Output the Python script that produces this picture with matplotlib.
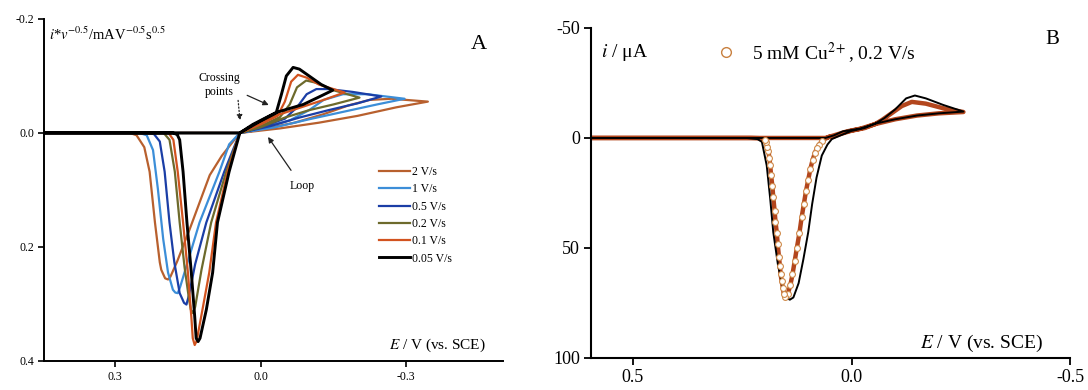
import matplotlib
matplotlib.use("Agg")
import matplotlib.pyplot as plt
from matplotlib.lines import Line2D
import numpy as np

plt.rcParams['font.family'] = ['Liberation Serif', 'DejaVu Serif']
plt.rcParams['mathtext.fontset'] = 'stix'
plt.rcParams['axes.unicode_minus'] = False

# ---- panel A : normalised CVs at several scan rates (E / V, i*v^-0.5) ----
labels_A = ['2 V/s', '1 V/s', '0.5 V/s', '0.2 V/s', '0.1 V/s', '0.05 V/s']
colors_A = ['#b8602e', '#3c8ed8', '#1b3ea6', '#6d6a2c', '#d2531f', '#000000']

e_2 = [0.447, 0.10, 0.043, -0.04, -0.12, -0.2, -0.28, -0.345,
       -0.27, -0.225, -0.18, -0.13, -0.07, 0.0, 0.043,
       0.057, 0.08, 0.105, 0.146, 0.172, 0.186, 0.191, 0.197,
       0.205, 0.208, 0.218, 0.229, 0.24, 0.256, 0.27, 0.447]
i_2 = [0, 0, 0, -0.008, -0.018, -0.03, -0.045, -0.055,
       -0.06, -0.058, -0.048, -0.033, -0.018, -0.006, 0,
       0.015, 0.04, 0.074, 0.168, 0.225, 0.252, 0.257, 0.255,
       0.24, 0.227, 0.157, 0.068, 0.025, 0.004, 0, 0]

e_1 = [0.447, 0.10, 0.043, -0.03, -0.1, -0.17, -0.24, -0.297,
       -0.22, -0.17, -0.13, -0.1, -0.06, 0.0, 0.043,
       0.065, 0.085, 0.126, 0.15, 0.166, 0.171, 0.176,
       0.181, 0.191, 0.201, 0.212, 0.222, 0.235, 0.25, 0.447]
i_1 = [0, 0, 0, -0.01, -0.024, -0.037, -0.05, -0.06,
       -0.068, -0.068, -0.058, -0.04, -0.022, -0.008, 0,
       0.02, 0.068, 0.157, 0.225, 0.27, 0.281, 0.28,
       0.275, 0.245, 0.186, 0.098, 0.03, 0.004, 0, 0]

e_05 = [0.447, 0.10, 0.043, -0.02, -0.08, -0.14, -0.2, -0.249,
        -0.19, -0.14, -0.115, -0.095, -0.075, -0.05, 0.0, 0.043,
        0.075, 0.112, 0.135, 0.148, 0.153, 0.158,
        0.167, 0.178, 0.188, 0.198, 0.208, 0.22, 0.235, 0.447]
i_05 = [0, 0, 0, -0.012, -0.027, -0.04, -0.052, -0.064,
        -0.072, -0.077, -0.077, -0.068, -0.045, -0.025, -0.01, 0,
        0.068, 0.157, 0.23, 0.285, 0.301, 0.298,
        0.281, 0.227, 0.157, 0.068, 0.015, 0.002, 0, 0]

e_02 = [0.447, 0.10, 0.043, 0.0, -0.05, -0.1, -0.15, -0.204,
        -0.15, -0.115, -0.094, -0.075, -0.06, -0.04, 0.0, 0.043,
        0.071, 0.102, 0.122, 0.135, 0.14, 0.144,
        0.148, 0.157, 0.167, 0.177, 0.188, 0.2, 0.447]
i_02 = [0, 0, 0, -0.01, -0.027, -0.04, -0.05, -0.062,
        -0.075, -0.088, -0.092, -0.08, -0.05, -0.028, -0.012, 0,
        0.068, 0.157, 0.24, 0.305, 0.316, 0.31,
        0.29, 0.235, 0.157, 0.068, 0.012, 0, 0]

e_01 = [0.447, 0.10, 0.043, 0.015, -0.03, -0.08, -0.13, -0.173,
        -0.12, -0.095, -0.077, -0.063, -0.05, -0.035, 0.0, 0.043,
        0.068, 0.092, 0.106, 0.12, 0.132, 0.136, 0.14,
        0.143, 0.15, 0.16, 0.171, 0.18, 0.19, 0.447]
i_01 = [0, 0, 0, -0.013, -0.03, -0.044, -0.058, -0.071,
        -0.085, -0.097, -0.102, -0.09, -0.055, -0.03, -0.015, 0,
        0.068, 0.157, 0.245, 0.31, 0.365, 0.372, 0.36,
        0.322, 0.245, 0.157, 0.068, 0.012, 0, 0]

e_005 = [0.447, 0.10, 0.043, 0.016, -0.032, -0.088, -0.12, -0.149,
         -0.125, -0.10, -0.08, -0.067, -0.053, -0.043, -0.032, 0.002, 0.043,
         0.065, 0.089, 0.099, 0.112, 0.125, 0.129, 0.133,
         0.136, 0.143, 0.152, 0.16, 0.167, 0.172, 0.18, 0.447]
i_005 = [0, 0, 0, -0.015, -0.036, -0.05, -0.063, -0.075,
         -0.085, -0.1, -0.112, -0.115, -0.1, -0.068, -0.035, -0.02, 0,
         0.068, 0.157, 0.245, 0.31, 0.36, 0.366, 0.36,
         0.322, 0.245, 0.157, 0.068, 0.012, 0.003, 0, 0]

curves_E = [e_2, e_1, e_05, e_02, e_01, e_005]
curves_I = [i_2, i_1, i_05, i_02, i_01, i_005]

# ---- panel B : experiment (black line) vs simulation (circles), i / uA ----
exp_e = [0.596, 0.06, 0.04, 0.02, -0.02, -0.054, -0.1, -0.15, -0.2, -0.256,
         -0.21, -0.17, -0.145, -0.125, -0.1, -0.075, -0.054, -0.03, 0.0, 0.025, 0.045,
         0.055, 0.068, 0.08, 0.09, 0.099, 0.11, 0.121, 0.133, 0.141,
         0.144, 0.156, 0.168, 0.179, 0.186, 0.194, 0.205, 0.215, 0.24, 0.596]
exp_i = [0, 0, -1.2, -3.0, -4.3, -6.5, -8.5, -10.2, -11.2, -12.0,
         -15.0, -18.0, -19.3, -18.0, -13.0, -9.0, -6.5, -4.5, -3.2, -1.2, 0.5,
         3, 8, 18, 30, 42.8, 55, 66, 72.5, 73.5,
         73.2, 68.7, 58, 42.8, 27.6, 12.5, 1.8, 0.5, 0, 0]

sim_e = [0.596, 0.06, 0.05, 0.03, 0.01, -0.02, -0.054, -0.1, -0.15, -0.2, -0.256,
         -0.21, -0.17, -0.138, -0.115, -0.09, -0.07, -0.054, -0.03, 0.0, 0.025, 0.045,
         0.05, 0.056, 0.062, 0.068, 0.074, 0.079, 0.084, 0.089, 0.094, 0.099, 0.104,
         0.109, 0.114, 0.119, 0.125, 0.13, 0.135, 0.14, 0.146, 0.152,
         0.155, 0.157, 0.16, 0.162, 0.164, 0.166, 0.169, 0.171, 0.174, 0.176, 0.179,
         0.181, 0.184, 0.186, 0.188, 0.19, 0.193, 0.195, 0.199, 0.202, 0.212, 0.23, 0.596]
sim_i = [0, 0, -0.6, -1.8, -3.0, -4.2, -6.3, -8.5, -10.2, -11.2, -11.8,
         -13.5, -15.6, -16.4, -14.5, -11.0, -8.2, -6.3, -4.5, -3.3, -1.8, -0.3,
         -0.6, 0.0, 0.5, 1.5, 3, 4.5, 7, 10, 14, 19, 24,
         30, 36, 43, 50, 56, 62, 67, 71, 72.5,
         71, 68, 65, 62, 58, 54, 48, 43, 38, 33, 27,
         22, 17, 12.5, 9, 6, 4, 2, 1, 0.5, 0.1, 0, 0]

fig = plt.figure(figsize=(10.88, 3.9), dpi=100)

# ================= panel A =================
axA = fig.add_axes([0.0404, 0.0744, 0.4219, 0.877])
for e, i, c, lab in zip(curves_E, curves_I, colors_A, labels_A):
    lw = 2.1 if c == '#000000' else 1.6
    axA.plot(e, i, color=c, lw=lw, label=lab, solid_joinstyle='round')

axA.set_xlim(0.447, -0.5)
axA.set_ylim(0.4, -0.2)
axA.set_xticks([0.3, 0.0, -0.3])
axA.set_xticklabels(['0.3', '0.0', '-0.3'])
axA.set_yticks([-0.2, 0.0, 0.2, 0.4])
axA.set_yticklabels(['-0.2', '0.0', '0.2', '0.4'])
for s in ['top', 'right']:
    axA.spines[s].set_visible(False)
for s in ['left', 'bottom']:
    axA.spines[s].set_linewidth(1.4)
axA.tick_params(direction='out', length=4, width=1.2, labelsize=8.5, pad=3)

axA.text(0.012, 0.955, r"$i$*$v^{-0.5}$/mAV$^{-0.5}$s$^{0.5}$", transform=axA.transAxes,
         fontsize=10.5, ha='left', va='center')
axA.text(0.948, 0.924, 'A', transform=axA.transAxes, fontsize=16, ha='center', va='center')
axA.text(0.963, 0.045, r"$E$ / V (vs. SCE)", transform=axA.transAxes, fontsize=11,
         ha='right', va='center')

axA.text(0.085, -0.084, 'Crossing\npoints', fontsize=8.5, ha='center', va='center',
         linespacing=1.3)
axA.annotate('', xy=(0.042, -0.017), xytext=(0.047, -0.062),
             arrowprops=dict(arrowstyle='-|>', lw=0.9, ls=':', color='#222222',
                             mutation_scale=8))
axA.annotate('', xy=(-0.022, -0.047), xytext=(0.033, -0.068),
             arrowprops=dict(arrowstyle='-|>', lw=0.9, color='#222222', mutation_scale=8))
axA.annotate('Loop', xy=(-0.012, 0.003), xytext=(-0.085, 0.093), fontsize=8.5,
             ha='center', va='center',
             arrowprops=dict(arrowstyle='-|>', lw=0.9, color='#222222', mutation_scale=8,
                             shrinkA=6))

legA = axA.legend(loc='upper left', bbox_to_anchor=(0.73, 0.57), frameon=False,
                  fontsize=8.5, handlelength=2.6, handletextpad=0.2, labelspacing=0.45,
                  borderaxespad=0, borderpad=0)

# ================= panel B =================
axB = fig.add_axes([0.5432, 0.0821, 0.4403, 0.8462])
axB.plot(sim_e, sim_i, color='#b3461d', lw=3.2, solid_joinstyle='round', zorder=2)
axB.plot(exp_e, exp_i, color='black', lw=1.4, zorder=3)
sim_e_arr = np.array(sim_e)
sim_i_arr = np.array(sim_i)
mask = sim_i_arr > 0.8
axB.plot(sim_e_arr[mask], sim_i_arr[mask], 'o', mfc='white', mec='#cf8a4a', ms=4.2,
         mew=0.8, zorder=4)

axB.set_xlim(0.596, -0.5)
axB.set_ylim(100, -50)
axB.set_xticks([0.5, 0.0, -0.5])
axB.set_xticklabels(['0.5', '0.0', '-0.5'])
axB.set_yticks([-50, 0, 50, 100])
axB.set_yticklabels(['-50', '0', '50', '100'])
for s in ['top', 'right']:
    axB.spines[s].set_visible(False)
for s in ['left', 'bottom']:
    axB.spines[s].set_linewidth(1.5)
axB.tick_params(direction='out', length=5, width=1.3, labelsize=13, pad=3)

axB.text(0.02, 0.927, r"$i$ / μA", transform=axB.transAxes, fontsize=14,
         ha='left', va='center')
axB.text(0.962, 0.964, 'B', transform=axB.transAxes, fontsize=15, ha='center', va='center')
axB.text(0.944, 0.045, r"$E$ / V (vs. SCE)", transform=axB.transAxes, fontsize=14,
         ha='right', va='center')

h = Line2D([], [], marker='o', ls='none', mfc='none', mec='#c8803f', ms=7, mew=1.0)
axB.legend([h], [r"5 mM Cu$^{2+}$, 0.2 V/s"], loc='center left',
           bbox_to_anchor=(0.262, 0.927), frameon=False, fontsize=14,
           handlelength=1.0, handletextpad=0.8, borderaxespad=0, borderpad=0)

fig.savefig('out.png', dpi=100)
